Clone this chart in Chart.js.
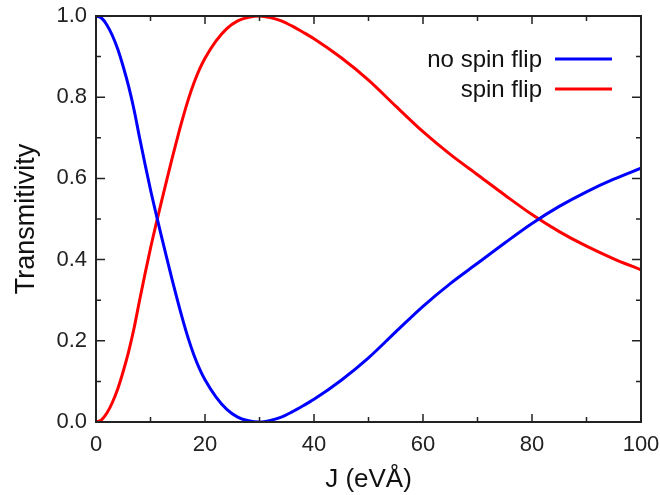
<!DOCTYPE html>
<html>
<head>
<meta charset="utf-8">
<script src="https://cdn.jsdelivr.net/npm/chart.js@4.4.0/dist/chart.umd.min.js"></script>
<style>
    html, body { margin: 0; padding: 0; background: #ffffff; }
    #contenedor { width: 660px; height: 495px; }
</style>
</head>
<body>
<div id="contenedor"><canvas id="grafico" width="660" height="495"></canvas></div>
<script>
// valores
const valores_j = [0, 1, 2, 3, 4, 5, 6, 7, 8, 9, 10, 11, 12, 13, 14, 15, 16, 17, 18, 19, 20,
    22, 24, 26, 28, 30, 32, 34, 36, 38, 40, 45, 50, 55, 60, 65, 70, 75, 80, 85, 90, 95, 100]
const no_spin_flip = [1.000, 0.995, 0.978, 0.952, 0.918, 0.875, 0.826, 0.768, 0.700, 0.635, 0.572,
    0.514, 0.458, 0.403, 0.349, 0.297, 0.248, 0.203, 0.164, 0.131, 0.104,
    0.062, 0.031, 0.012, 0.003, 0.000, 0.004, 0.012, 0.025, 0.040, 0.056,
    0.103, 0.158, 0.222, 0.285, 0.341, 0.391, 0.441, 0.489, 0.531, 0.567, 0.598, 0.625]
const spin_flip = [0.000, 0.005, 0.022, 0.048, 0.082, 0.125, 0.174, 0.232, 0.300, 0.365, 0.428,
    0.486, 0.542, 0.597, 0.651, 0.703, 0.752, 0.797, 0.836, 0.869, 0.896,
    0.938, 0.969, 0.988, 0.997, 1.000, 0.996, 0.988, 0.975, 0.960, 0.944,
    0.897, 0.842, 0.778, 0.715, 0.659, 0.609, 0.559, 0.511, 0.469, 0.433, 0.402, 0.375]
const nombres_series = ["no spin flip", "spin flip"]
const colores_series = ["#0000ff", "#ff0000"]
const ticks_x = [0, 20, 40, 60, 80, 100]
const ticks_y = [0.0, 0.2, 0.4, 0.6, 0.8, 1.0]
const titulo_x = "J (eVÅ)"
const titulo_y = "Transmitivity"

const color_ejes = "#222222"
const fuente = "'Liberation Sans', Arial, sans-serif"

function armar_puntos(serie) {
    return valores_j.map((j, i) => ({ x: j, y: serie[i] }))
}

// marco y ticks hacia adentro en los cuatro lados
const marco_plugin = {
    id: "marco",
    afterDraw(chart) {
        const ctx = chart.ctx
        const area = chart.chartArea
        const sx = chart.scales.x
        const sy = chart.scales.y
        ctx.save()
        ctx.strokeStyle = color_ejes
        ctx.lineWidth = 2
        ctx.strokeRect(area.left, area.top, area.right - area.left, area.bottom - area.top)
        ctx.lineWidth = 1.5
        ctx.beginPath()
        for (let v = 0; v <= 100; v += 10) {
            const px = sx.getPixelForValue(v)
            const largo = v % 20 == 0 ? 8 : 5
            ctx.moveTo(px, area.bottom)
            ctx.lineTo(px, area.bottom - largo)
            ctx.moveTo(px, area.top)
            ctx.lineTo(px, area.top + largo)
        }
        for (let k = 0; k <= 10; k++) {
            const py = sy.getPixelForValue(k / 10)
            const largo = k % 2 == 0 ? 9 : 5
            ctx.moveTo(area.left, py)
            ctx.lineTo(area.left + largo, py)
            ctx.moveTo(area.right, py)
            ctx.lineTo(area.right - largo, py)
        }
        ctx.stroke()
        ctx.restore()
    }
}

// leyenda: texto a la izquierda y linea a la derecha
const leyenda_plugin = {
    id: "leyenda",
    afterDraw(chart) {
        const ctx = chart.ctx
        const area = chart.chartArea
        const x_texto = area.right - 99
        ctx.save()
        ctx.font = "24px " + fuente
        ctx.textAlign = "right"
        ctx.textBaseline = "middle"
        chart.data.datasets.forEach((ds, i) => {
            const y = area.top + 43 + i * 30
            ctx.fillStyle = "#111111"
            ctx.fillText(ds.label, x_texto, y + 1)
            ctx.strokeStyle = ds.borderColor
            ctx.lineWidth = 3
            ctx.beginPath()
            ctx.moveTo(x_texto + 13, y)
            ctx.lineTo(x_texto + 70, y)
            ctx.stroke()
        })
        ctx.restore()
    }
}

const datasets = nombres_series.map((nombre, i) => ({
    label: nombre,
    data: armar_puntos(i == 0 ? no_spin_flip : spin_flip),
    borderColor: colores_series[i],
    borderWidth: 3,
    pointRadius: 0,
    cubicInterpolationMode: "monotone",
    fill: false
}))

new Chart(document.querySelector("#grafico"), {
    type: "line",
    data: { datasets: datasets },
    plugins: [marco_plugin, leyenda_plugin],
    options: {
        responsive: false,
        animation: false,
        devicePixelRatio: 1,
        layout: { padding: { left: 0, top: 16, right: 19, bottom: 0 } },
        plugins: {
            legend: { display: false },
            tooltip: { enabled: false }
        },
        scales: {
            x: {
                type: "linear",
                min: 0,
                max: 100,
                afterFit: (scale) => {
                    scale.height = 73
                    scale.paddingLeft = 0
                    scale.paddingRight = 0
                },
                afterBuildTicks: (scale) => { scale.ticks = ticks_x.map(v => ({ value: v })) },
                grid: { display: false, drawTicks: false },
                border: { display: false },
                ticks: {
                    padding: 10,
                    autoSkip: false,
                    color: color_ejes,
                    font: { family: fuente, size: 22 },
                    maxRotation: 0,
                    callback: (v) => String(v)
                },
                title: {
                    display: true,
                    text: titulo_x,
                    color: "#111111",
                    font: { family: fuente, size: 26 },
                    padding: { top: 0, bottom: 0 }
                }
            },
            y: {
                type: "linear",
                min: 0,
                max: 1,
                afterFit: (scale) => {
                    scale.width = 96
                    scale.paddingTop = 0
                    scale.paddingBottom = 0
                },
                afterBuildTicks: (scale) => { scale.ticks = ticks_y.map(v => ({ value: v })) },
                grid: { display: false, drawTicks: false },
                border: { display: false },
                ticks: {
                    padding: 9,
                    autoSkip: false,
                    color: color_ejes,
                    font: { family: fuente, size: 22 },
                    callback: (v) => Number(v).toFixed(1)
                },
                title: {
                    display: true,
                    text: titulo_y,
                    color: "#111111",
                    font: { family: fuente, size: 27 },
                    padding: { top: 10, bottom: 0 }
                }
            }
        }
    }
})
</script>
</body>
</html>
